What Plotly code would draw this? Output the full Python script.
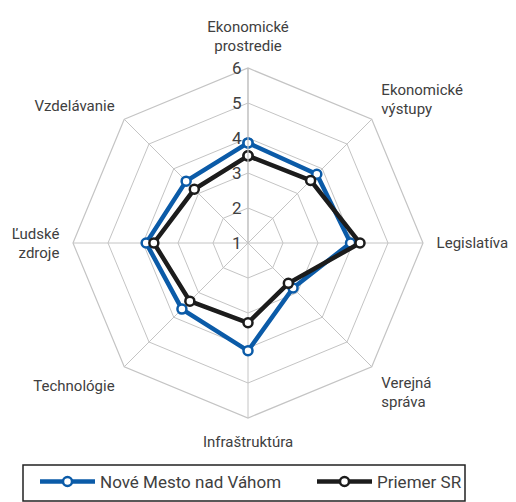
import plotly.graph_objects as go

# axes of the radar, clockwise from top
categories = ["Ekonomické<br>prostredie", "Ekonomické<br>výstupy", "Legislatíva",
              "Verejná<br>správa", "Infraštruktúra", "Technológie",
              "Ľudské<br>zdroje", "Vzdelávanie"]
nove_mesto = [3.86, 3.78, 3.93, 2.82, 4.08, 3.67, 3.91, 3.50]
priemer_sr = [3.49, 3.53, 4.20, 2.63, 3.28, 3.35, 3.69, 3.17]

grid = "#c4c4c4"
txt = "#404040"
W, H = 516, 502
OFF = 8  # page body margin in the browser


def closed(v):
    return v + v[:1]


def px(x):
    return (x - OFF) / W


def py(y):
    return 1 - (y - OFF) / H


fig = go.Figure()
fig.add_trace(go.Scatterpolar(
    r=closed(nove_mesto), theta=closed(categories), name="Nové Mesto nad Váhom",
    mode="lines+markers", legend="legend", showlegend=True,
    line=dict(color="#0b5ba8", width=4.5),
    marker=dict(size=9, color="white", line=dict(color="#0b5ba8", width=2.5)),
))
fig.add_trace(go.Scatterpolar(
    r=closed(priemer_sr), theta=closed(categories), name="Priemer SR",
    mode="lines+markers", legend="legend2", showlegend=True,
    line=dict(color="#1c1c1c", width=4.5),
    marker=dict(size=9, color="white", line=dict(color="#1c1c1c", width=2.5)),
))

leg = dict(orientation="h", xref="container", yref="container",
           yanchor="middle", y=py(482), xanchor="left",
           bgcolor="rgba(0,0,0,0)", borderwidth=0, itemwidth=55,
           font=dict(size=17, color=txt))

fig.update_layout(
    width=W, height=H,
    margin=dict(l=0, r=0, t=0, b=0, autoexpand=False),
    paper_bgcolor="white",
    showlegend=True,
    font=dict(family="Roboto, Liberation Sans, sans-serif", size=15, color=txt),
    polar=dict(
        domain=dict(x=[px(73), px(423)], y=[py(418), py(68)]),
        bgcolor="white",
        gridshape="linear",
        radialaxis=dict(
            range=[1, 6], tickvals=[1, 2, 3, 4, 5, 6], angle=90, tickangle=90,
            side="counterclockwise",
            showline=True, linecolor=grid, linewidth=1.2,
            gridcolor=grid, gridwidth=1.2, ticks="",
            tickfont=dict(size=17, color=txt),
        ),
        angularaxis=dict(
            direction="clockwise", rotation=90,
            showline=True, linecolor=grid, linewidth=1.2,
            gridcolor=grid, gridwidth=1.2,
            ticks="outside", ticklen=10, tickcolor="rgba(0,0,0,0)",
            tickfont=dict(size=15, color=txt),
        ),
    ),
    legend=dict(leg, x=px(35)),
    legend2=dict(leg, x=px(312)),
    shapes=[dict(type="rect", xref="paper", yref="paper",
                 x0=px(23), x1=px(465), y0=py(501), y1=py(465),
                 line=dict(color="#222222", width=1.5))],
)

fig.write_html("out.html")
